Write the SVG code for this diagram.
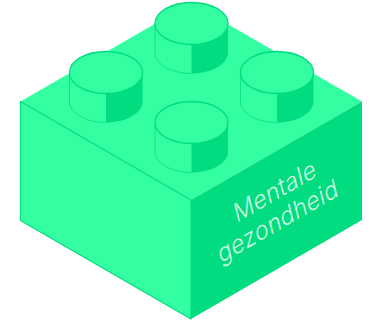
<svg xmlns="http://www.w3.org/2000/svg" width="371" height="325" viewBox="0 0 371 325">
<style>
.l{fill:#33ffa2;stroke:#00dc7f;stroke-width:1.2;stroke-linejoin:round}
.n{fill:#33ffa2}
.d{fill:#00dc7f}
.e{fill:none;stroke:#00dc7f;stroke-width:.8}
.t{fill:#33ffa2;stroke:#00dc7f;stroke-width:1.3}
.x{font-family:"Inter","Liberation Sans",sans-serif;font-size:24.500px;font-weight:300;letter-spacing:.3px;fill:#c9f9e2;text-anchor:middle}
</style>
<defs>
<g id="stud">
<path class="n" d="M-36.500 0V29C-36.500 40.600-20.200 50-0 50C20.200 50 36.500 40.600 36.500 29V0Z"/>
<path class="d" d="M0 21V50C20.200 50 36.500 40.600 36.500 29V0Z"/>
<path class="e" d="M-36.500 0V29C-36.500 40.600-20.200 50 0 50"/>
<ellipse class="t" rx="36.500" ry="21"/>
</g>
</defs>
<g id="brick">
<path class="n" d="M20.500 101.500L191 3L362 101.500L191 200Z"/>
<path class="l" d="M20.500 101.500L191 200V319L20.500 220.500Z"/>
<path class="d" d="M191 200L362 101.500V220L191 319Z"/>
</g>
<g id="stud-top"><use href="#stud" x="191.500" y="23.500"/></g>
<g id="stud-left"><use href="#stud" x="106" y="72.500"/></g>
<g id="stud-right"><use href="#stud" x="277" y="72.500"/></g>
<g id="stud-front"><use href="#stud" x="191.500" y="122.500"/></g>
<g id="label">
<text class="x" transform="matrix(.866 -.5 .25 1 277 199.500)">Mentale</text>
<text class="x" transform="matrix(.866 -.5 .25 1 280 229.500)">gezondheid</text>
</g>
</svg>
